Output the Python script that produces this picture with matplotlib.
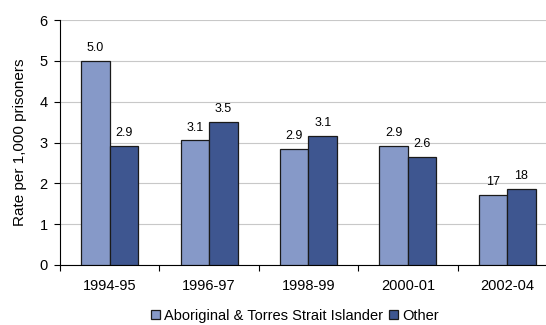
import numpy as np
import matplotlib
matplotlib.use("Agg")
import matplotlib.pyplot as plt

plt.rcParams["font.family"] = ["Liberation Sans", "DejaVu Sans"]

# Data
periods = ["1994-95", "1996-97", "1998-99", "2000-01", "2002-04"]
indigenous = [5.0, 3.05, 2.84, 2.92, 1.72]
other = [2.92, 3.5, 3.15, 2.65, 1.85]
indigenous_labels = ["5.0", "3.1", "2.9", "2.9", "17"]
other_labels = ["2.9", "3.5", "3.1", "2.6", "18"]
series_names = ["Aboriginal & Torres Strait Islander", "Other"]

light = "#8699C8"
dark = "#3E5690"

fig = plt.figure(figsize=(5.46, 3.25), dpi=100)
ax = fig.add_axes([0.110, 0.185, 0.91, 0.753])

x = np.arange(len(periods))
w = 0.287
b1 = ax.bar(x - w / 2, indigenous, w, color=light, edgecolor="#1a1a1a",
            linewidth=0.9, label=series_names[0], zorder=3)
b2 = ax.bar(x + w / 2, other, w, color=dark, edgecolor="#1a1a1a",
            linewidth=0.9, label=series_names[1], zorder=3)

for bars, labels in [(b1, indigenous_labels), (b2, other_labels)]:
    for r, lab in zip(bars, labels):
        ax.annotate(lab, (r.get_x() + r.get_width() / 2, r.get_height()),
                    xytext=(0, 5), textcoords="offset points",
                    ha="center", va="bottom", fontsize=9)

ax.set_xlim(-0.5, len(periods) - 0.5)
ax.set_ylim(0, 6)
ax.set_yticks(range(0, 7))
ax.set_xticks(x)
ax.set_xticklabels(periods, fontsize=10.5)
ax.set_xticks(np.arange(-0.5, len(periods)), minor=True)
ax.tick_params(axis="x", which="major", length=0, pad=10)
ax.tick_params(axis="x", which="minor", length=4, width=0.8, direction="out")
ax.tick_params(axis="y", labelsize=10.5, length=4, width=0.8,
               direction="out", pad=5)
ax.yaxis.grid(True, color="#c8c8c8", linewidth=0.8, zorder=0)
ax.set_axisbelow(True)
for s in ["top", "right"]:
    ax.spines[s].set_visible(False)
ax.spines["left"].set_linewidth(0.8)
ax.spines["bottom"].set_linewidth(0.8)
ax.set_ylabel("Rate per 1,000 prisoners", fontsize=11, labelpad=9)

fig.legend(handles=[b1, b2], loc="center", bbox_to_anchor=(0.54, 0.028),
           ncol=2, frameon=False, fontsize=10.5, handlelength=0.6,
           handleheight=0.6, handletextpad=0.3, columnspacing=0.4,
           borderpad=0)

fig.savefig("out.png", dpi=100)
